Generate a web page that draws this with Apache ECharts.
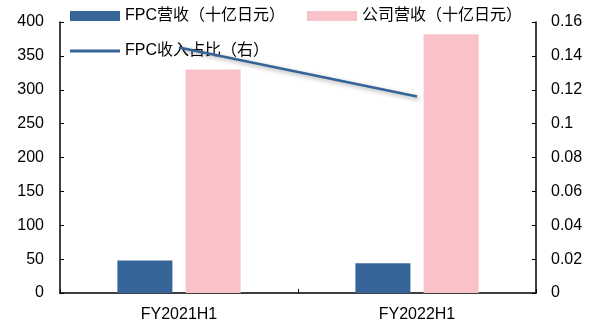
<!DOCTYPE html>
<html>
<head>
<meta charset="utf-8">
<script src="https://cdn.jsdelivr.net/npm/echarts@6/dist/echarts.min.js"></script>
<style>
  html, body { margin: 0; padding: 0; background: #fff; }
  #chart { width: 596px; height: 329px; }
</style>
</head>
<body>
<div id="chart"></div>
<script>
// Half-year periods
const categories = ['FY2021H1', 'FY2022H1'];
// FPC revenue, billion JPY
const fpcRevenue = [48, 44];
// Company revenue, billion JPY
const companyRevenue = [330, 382];
// FPC share of revenue (right axis)
const fpcShare = [0.145, 0.116];

const seriesNames = ['FPC营收（十亿日元）', '公司营收（十亿日元）', 'FPC收入占比（右）'];

const FONT = '"Liberation Sans", Arial, "Noto Sans CJK SC", sans-serif';
const BLUE = '#346498';
const PINK = '#F9C2C9';

const chart = echarts.init(document.getElementById('chart'), null, { renderer: 'canvas' });

const legendText = { color: '#000', fontSize: 16, fontFamily: FONT };

chart.setOption({
  animation: false,
  backgroundColor: '#fff',
  textStyle: { fontFamily: FONT },
  grid: { left: 60, right: 60, top: 22, bottom: 36, containLabel: false },
  legend: [
    { data: [seriesNames[0]], left: 70, top: 8, itemWidth: 50, itemHeight: 10, itemGap: 0, textStyle: legendText, padding: 0, icon: 'rect' },
    { data: [seriesNames[1]], left: 307, top: 8, itemWidth: 50, itemHeight: 10, itemGap: 0, textStyle: legendText, padding: 0, icon: 'rect' },
    { data: [seriesNames[2]], left: 70, top: 43, itemWidth: 50, itemHeight: 3, itemGap: 0, textStyle: legendText, padding: 0, icon: 'rect' }
  ],
  xAxis: {
    type: 'category',
    data: categories,
    axisLine: { lineStyle: { color: '#000', width: 1.5 } },
    axisTick: { show: true, inside: true, length: 4, lineStyle: { color: '#000' } },
    axisLabel: { color: '#000', fontSize: 16, fontFamily: FONT, margin: 14 }
  },
  yAxis: [
    {
      type: 'value', min: 0, max: 400, interval: 50,
      splitLine: { show: false },
      axisLine: { show: true, lineStyle: { color: '#000', width: 1.5 } },
      axisTick: { show: true, inside: true, length: 4, lineStyle: { color: '#000' } },
      axisLabel: { color: '#000', fontSize: 16, fontFamily: FONT, margin: 16 }
    },
    {
      type: 'value', min: 0, max: 0.16, interval: 0.02, position: 'right',
      splitLine: { show: false },
      axisLine: { show: true, lineStyle: { color: '#000', width: 1.5 } },
      axisTick: { show: true, inside: true, length: 4, lineStyle: { color: '#000' } },
      axisLabel: { color: '#000', fontSize: 16, fontFamily: FONT, margin: 15 }
    }
  ],
  series: [
    {
      name: seriesNames[0], type: 'bar', yAxisIndex: 0, data: fpcRevenue,
      barWidth: 55, barGap: '24%', itemStyle: { color: BLUE }
    },
    {
      name: seriesNames[1], type: 'bar', yAxisIndex: 0, data: companyRevenue,
      barWidth: 55, itemStyle: { color: PINK }
    },
    {
      name: seriesNames[2], type: 'line', yAxisIndex: 1, data: fpcShare,
      symbol: 'none', z: 5,
      lineStyle: {
        color: BLUE, width: 2.5,
        shadowColor: 'rgba(0,0,0,0.35)', shadowBlur: 4, shadowOffsetX: 2, shadowOffsetY: 2
      },
      itemStyle: { color: BLUE }
    }
  ]
});
</script>
</body>
</html>
